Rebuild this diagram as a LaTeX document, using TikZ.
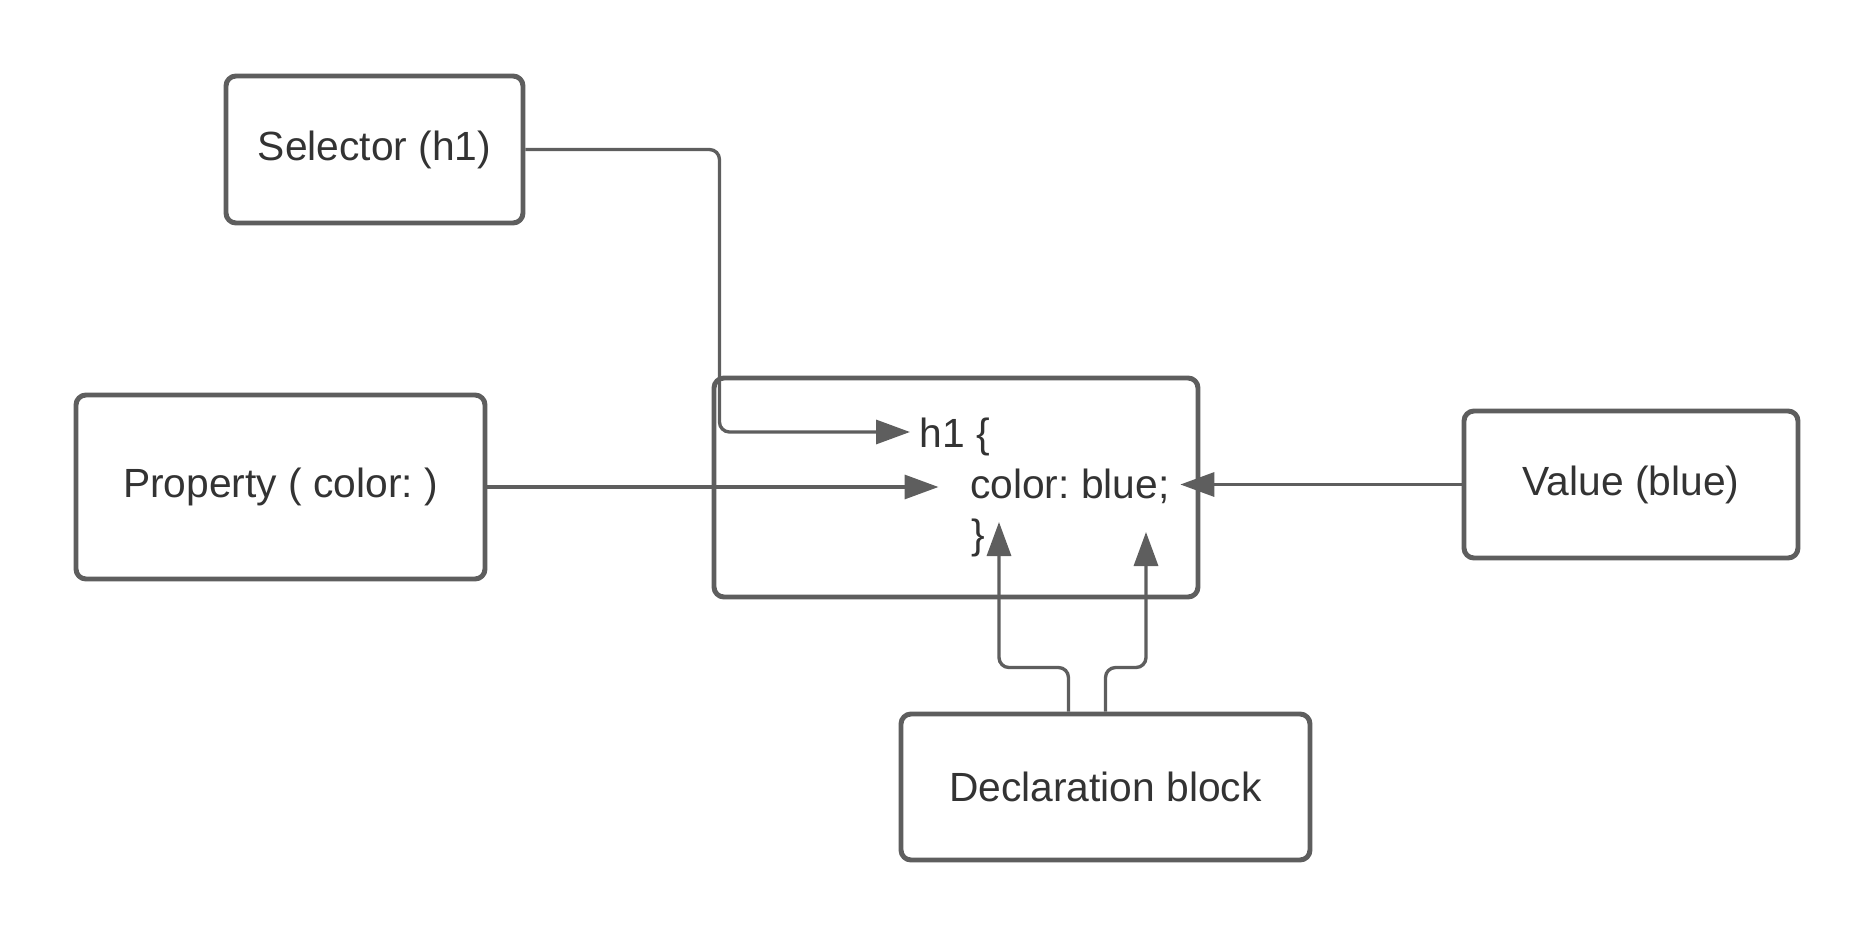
\documentclass[tikz,border=0pt]{standalone}
\usepackage{fontspec}
\setmainfont{Liberation Sans}
\usetikzlibrary{arrows.meta}
\definecolor{linegray}{HTML}{5E5E5E}
\definecolor{textgray}{HTML}{333333}
\frenchspacing

\begin{document}
\begin{tikzpicture}[
    box/.style={draw=linegray, line width=1.4pt, rounded corners=0.1cm, text=textgray, inner sep=0pt},
    code/.style={anchor=base west, inner sep=0pt, text height=0.3cm, text depth=0pt, text=textgray},
    link/.style={draw=linegray, line width=0.95pt, rounded corners=0.1cm, -{Triangle[length=0.34cm, width=0.24cm]}},
    font=\fontsize{11.6}{14}\selectfont]
      \useasboundingbox (0,0) rectangle (18.75,-9.38);
      \node[box, minimum width=2.97cm, minimum height=1.47cm] (sel) at (3.745,-1.495) {Selector (h1)};
      \node[box, minimum width=4.09cm, minimum height=1.84cm] (prop) at (2.805,-4.87) {Property ( color: )};
      \node[box, minimum width=4.84cm, minimum height=2.19cm] (rule) at (9.56,-4.875) {};
      \node[box, minimum width=3.34cm, minimum height=1.47cm] (val) at (16.31,-4.845) {Value (blue)};
      \node[box, minimum width=4.09cm, minimum height=1.46cm] (decl) at (11.055,-7.87) {Declaration block};
      \node[code] (h1line) at (9.19,-4.47) {h1 \{};
      \node[code] (declline) at (9.695,-4.98) {color: blue;};
      \node[code] (closeline) at (9.71,-5.48) {\}};
      \coordinate (tipL) at (9.99,-5.22);
      \coordinate (tipR) at (11.46,-5.32);
      \draw[link, shorten >=0.09cm] (sel.east) -- ++(1.94,0) |- (h1line.west);
      \draw[link, shorten >=0.31cm] (prop.east) -- (prop.east -| declline.west);
      \draw[link, shorten >=0.10cm] (val.west) -- (val.west -| declline.east);
      \draw[link] ([xshift=-0.37cm]decl.north) -- ++(0,0.44) -| (tipL);
      \draw[link] (decl.north) -- ++(0,0.44) -| (tipR);
\end{tikzpicture}
\end{document}
